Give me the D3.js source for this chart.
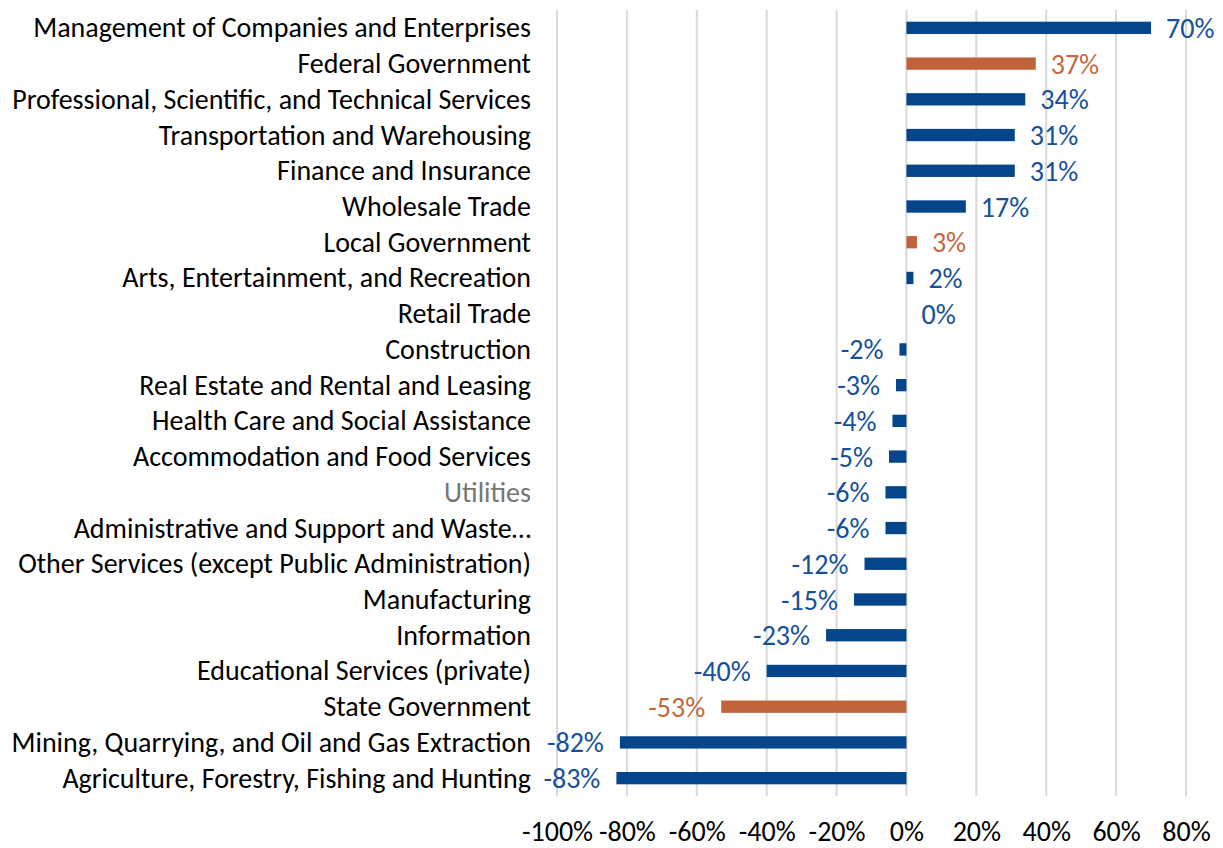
<!DOCTYPE html>
<html style="overflow:hidden;">
<head>
	<meta charset="utf-8">
	<script src="https://cdnjs.cloudflare.com/ajax/libs/d3/7.8.5/d3.min.js" charset="utf-8"></script>
	<style>
		body { margin:0; background:#fff; }
		text { font-family: Carlito, Calibri, "Open Sans", sans-serif; }
	</style>
</head>
<body>
<div id="chart"></div>
<script>
// categories, top to bottom
var categories = [
  "Management of Companies and Enterprises",
  "Federal Government",
  "Professional, Scientific, and Technical Services",
  "Transportation and Warehousing",
  "Finance and Insurance",
  "Wholesale Trade",
  "Local Government",
  "Arts, Entertainment, and Recreation",
  "Retail Trade",
  "Construction",
  "Real Estate and Rental and Leasing",
  "Health Care and Social Assistance",
  "Accommodation and Food Services",
  "Utilities",
  "Administrative and Support and Waste\u2026",
  "Other Services (except Public Administration)",
  "Manufacturing",
  "Information",
  "Educational Services (private)",
  "State Government",
  "Mining, Quarrying, and Oil and Gas Extraction",
  "Agriculture, Forestry, Fishing and Hunting"
];
// percent change
var values = [70, 37, 34, 31, 31, 17, 3, 2, 0, -2, -3, -4, -5, -6, -6, -12, -15, -23, -40, -53, -82, -83];
// government sectors are highlighted
var government = ["Federal Government", "Local Government", "State Government"];
var tickValues = [-100, -80, -60, -40, -20, 0, 20, 40, 60, 80];

var width = 1223, height = 848;
var margin = {top: 10, right: 37, bottom: 52, left: 557};
var fontSize = "28px";

var blue = "#05458c", orange = "#c0633a";
var blueText = "#16509a", orangeText = "#c4683e";

var svg = d3.select("#chart").append("svg")
    .attr("width", width)
    .attr("height", height);

var x = d3.scaleLinear()
    .domain([-100, 80])
    .range([margin.left, width - margin.right]);

var y = d3.scaleBand()
    .domain(categories)
    .range([margin.top, height - margin.bottom])
    .paddingInner(0.655)
    .paddingOuter(0.3275);

var rows = categories.map(function(c, i) { return {name: c, value: values[i]}; });
function isGov(d) { return government.indexOf(d.name) >= 0; }

// gridlines
svg.append("g")
  .selectAll("line")
  .data(tickValues)
  .join("line")
    .attr("x1", function(d) { return x(d); })
    .attr("x2", function(d) { return x(d); })
    .attr("y1", margin.top)
    .attr("y2", height - margin.bottom)
    .style("stroke", "#d9d9d9")
    .style("stroke-width", 2);

// x axis labels
var xAxis = svg.append("g")
    .attr("transform", "translate(0," + (height - margin.bottom + 27) + ")")
    .call(d3.axisBottom(x).tickValues(tickValues).tickSize(0).tickPadding(0).tickFormat(function(d) { return d + "%"; }));
xAxis.select(".domain").remove();
xAxis.selectAll("text")
    .attr("dy", null)
    .attr("y", 18)
    .style("font-size", fontSize)
    .style("fill", "#000")
    .style("font-family", "Carlito, Calibri, 'Open Sans', sans-serif");

// category labels
svg.append("g")
  .selectAll("text")
  .data(rows)
  .join("text")
    .attr("x", margin.left - 26)
    .attr("y", function(d) { return y(d.name) + y.bandwidth() / 2 + 9.5; })
    .attr("text-anchor", "end")
    .style("font-size", fontSize)
    .style("fill", function(d) { return d.name === "Utilities" ? "#767676" : "#000"; })
    .text(function(d) { return d.name; });

// bars
svg.append("g")
  .selectAll("rect")
  .data(rows)
  .join("rect")
    .attr("x", function(d) { return x(Math.min(0, d.value)); })
    .attr("y", function(d) { return y(d.name); })
    .attr("width", function(d) { return Math.abs(x(d.value) - x(0)); })
    .attr("height", y.bandwidth())
    .style("fill", function(d) { return isGov(d) ? orange : blue; });

// value labels
svg.append("g")
  .selectAll("text")
  .data(rows)
  .join("text")
    .attr("x", function(d) { return d.value < 0 ? x(d.value) - 16 : x(d.value) + 15; })
    .attr("y", function(d) { return y(d.name) + y.bandwidth() / 2 + 10; })
    .attr("text-anchor", function(d) { return d.value < 0 ? "end" : "start"; })
    .style("font-size", fontSize)
    .style("fill", function(d) { return isGov(d) ? orangeText : blueText; })
    .text(function(d) { return d.value + "%"; });
</script>
</body>
</html>
